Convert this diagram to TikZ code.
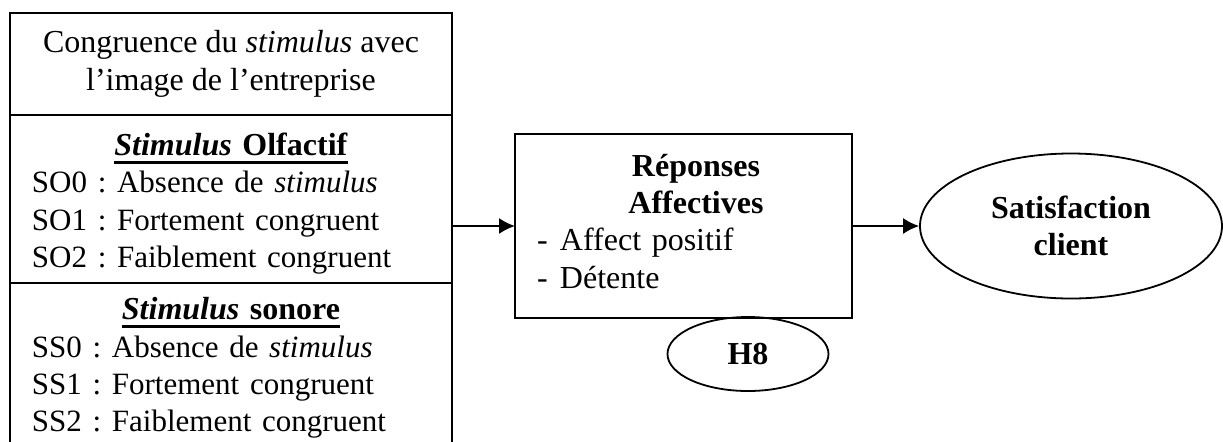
\documentclass[tikz,border=0pt]{standalone}
\usepackage{fontspec}
\setmainfont{Liberation Serif}
\usetikzlibrary{positioning,shapes.geometric,arrows.meta}
\frenchspacing
\newcommand{\souligne}[1]{\setbox0\hbox{#1}\rlap{\rule[-4pt]{\wd0}{1.1pt}}\box0}
\newcommand{\petit}{\fontsize{15.5}{18.7}\selectfont}

\begin{document}
\begin{tikzpicture}[x=0.5pt,y=-0.5pt, line width=0.9pt,
		every node/.style={font=\fontsize{16}{18.7}\selectfont},
		boite/.style={draw, rectangle, inner sep=0pt, outer sep=0pt, align=left},
		bulle/.style={draw, ellipse, inner sep=0pt, align=center, font=\fontsize{16}{18.7}\selectfont\bfseries},
		fleche/.style={-{Latex[length=8pt,width=8pt]}}]
		\pgfmathsetmacro{\W}{221}
		\useasboundingbox (0,0) rectangle (1223,441);
		% bloc des stimuli
		\node[boite, align=center, minimum width=\W pt, minimum height=51pt] (congr) at (231,64) {Congruence du \textit{stimulus} avec\\l’image de l’entreprise};
		\node[boite, minimum width=\W pt, minimum height=84pt, text width=199pt, below=0pt of congr] (olf) {\makebox[\hsize]{\rule{0pt}{16pt}\souligne{\textbf{\textit{Stimulus}} \textbf{Olfactif}}}\\\petit SO0 : Absence de \textit{stimulus}\\SO1 : Fortement congruent\\SO2 : Faiblement congruent};
		\node[boite, minimum width=\W pt, minimum height=85pt, text width=199pt, below=0pt of olf] (son) {\makebox[\hsize]{\souligne{\textbf{\textit{Stimulus}} \textbf{sonore}}}\\\petit SS0 : Absence de \textit{stimulus}\\SS1 : Fortement congruent\\SS2 : Faiblement congruent};
		% reponses et satisfaction
		\node[boite, minimum width=168.5pt, minimum height=92pt, text width=146.5pt] (rep) at (683.5,226) {\makebox[\hsize]{\hspace{12.5pt}\textbf{Réponses}}\\\makebox[\hsize]{\hspace{12.5pt}\textbf{Affectives}}\\\makebox[11.5pt][l]{-}Affect positif\\\makebox[11.5pt][l]{-}Détente\rule[-5pt]{0pt}{0pt}};
		\node[bulle, minimum width=151pt, minimum height=72.5pt] (sat) at (1071,226) {Satisfaction\\client};
		\node[bulle, minimum width=80.5pt, minimum height=37pt] (h8) at (748,354) {H8};
		\draw[fleche] (olf.east |- rep.west) -- (rep.west);
		\draw[fleche] (rep) -- (sat);
	\end{tikzpicture}
\end{document}
